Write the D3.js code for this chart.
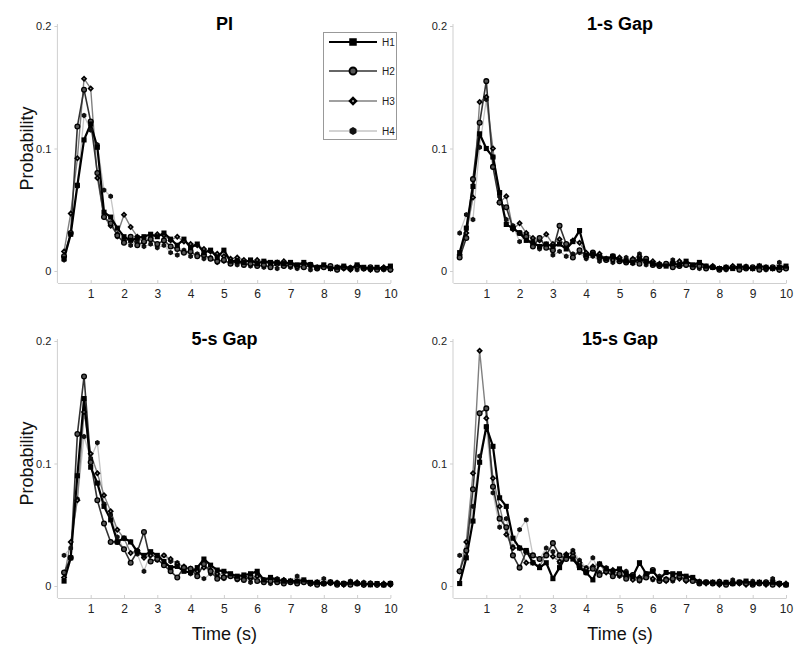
<!DOCTYPE html>
<html><head><meta charset="utf-8">
<script src="https://cdn.jsdelivr.net/npm/d3@7"></script>
<style>body{margin:0;background:#fff}svg{display:block;font-family:Arial,"Liberation Sans",sans-serif}</style>
</head><body><svg id="c" width="800" height="652"></svg>
<script>
const times = [0.2,0.4,0.6,0.8,1.0,1.2,1.4,1.6,1.8,2.0,2.2,2.4,2.6,2.8,3.0,3.2,3.4,3.6,3.8,4.0,4.2,4.4,4.6,4.8,5.0,5.2,5.4,5.6,5.8,6.0,6.2,6.4,6.6,6.8,7.0,7.2,7.4,7.6,7.8,8.0,8.2,8.4,8.6,8.8,9.0,9.2,9.4,9.6,9.8,10.0];
const seriesNames = ["H1","H2","H3","H4"];
const panelTitles = ["PI","1-s Gap","5-s Gap","15-s Gap"];
const xTicks = [1,2,3,4,5,6,7,8,9,10];
const yTicks = [0,0.1,0.2];
const yTickLabels = ["0","0.1","0.2"];

// PI
const piH1 = [0.010,0.030,0.070,0.107,0.120,0.101,0.048,0.044,0.035,0.028,0.025,0.027,0.028,0.030,0.028,0.031,0.026,0.021,0.026,0.019,0.022,0.015,0.017,0.011,0.017,0.008,0.008,0.007,0.009,0.006,0.008,0.007,0.007,0.006,0.007,0.005,0.007,0.005,0.003,0.005,0.002,0.003,0.004,0.002,0.005,0.003,0.002,0.003,0.002,0.004];
const piH2 = [0.012,0.031,0.118,0.148,0.122,0.080,0.044,0.039,0.029,0.023,0.028,0.021,0.024,0.026,0.022,0.025,0.020,0.018,0.015,0.016,0.012,0.013,0.010,0.008,0.009,0.006,0.008,0.005,0.006,0.004,0.005,0.003,0.006,0.004,0.005,0.004,0.003,0.005,0.002,0.003,0.004,0.001,0.003,0.002,0.004,0.002,0.003,0.001,0.002,0.001];
const piH3 = [0.016,0.047,0.092,0.157,0.149,0.076,0.044,0.037,0.030,0.046,0.036,0.028,0.023,0.027,0.030,0.029,0.025,0.028,0.024,0.022,0.021,0.018,0.016,0.014,0.012,0.010,0.011,0.009,0.008,0.009,0.007,0.006,0.007,0.008,0.005,0.004,0.006,0.004,0.003,0.004,0.002,0.003,0.002,0.001,0.003,0.002,0.001,0.002,0.003,0.001];
const piH4 = [0.009,0.030,0.069,0.127,0.115,0.103,0.066,0.061,0.028,0.025,0.021,0.024,0.020,0.022,0.019,0.021,0.015,0.013,0.017,0.012,0.014,0.010,0.011,0.007,0.008,0.006,0.005,0.006,0.004,0.005,0.003,0.004,0.002,0.004,0.003,0.002,0.003,0.001,0.002,0.003,0.002,0.001,0.002,0.003,0.001,0.002,0.001,0.002,0.001,0.003];
// 1-s Gap
const g1H1 = [0.015,0.035,0.069,0.112,0.100,0.093,0.064,0.038,0.035,0.031,0.025,0.023,0.020,0.022,0.020,0.022,0.018,0.024,0.033,0.013,0.014,0.012,0.010,0.012,0.009,0.008,0.007,0.010,0.008,0.006,0.005,0.004,0.006,0.005,0.008,0.005,0.007,0.004,0.003,0.002,0.003,0.002,0.004,0.003,0.002,0.004,0.003,0.002,0.003,0.004];
const g1H2 = [0.011,0.027,0.075,0.121,0.155,0.085,0.056,0.052,0.035,0.031,0.028,0.020,0.027,0.019,0.017,0.037,0.022,0.011,0.017,0.012,0.015,0.011,0.009,0.012,0.008,0.007,0.009,0.006,0.010,0.005,0.004,0.006,0.003,0.004,0.005,0.003,0.004,0.002,0.003,0.001,0.002,0.003,0.001,0.002,0.003,0.001,0.002,0.003,0.001,0.002];
const g1H3 = [0.013,0.031,0.060,0.138,0.142,0.100,0.056,0.061,0.034,0.039,0.031,0.027,0.025,0.030,0.022,0.026,0.020,0.025,0.023,0.015,0.013,0.014,0.010,0.009,0.011,0.008,0.010,0.012,0.007,0.008,0.006,0.005,0.007,0.008,0.005,0.004,0.005,0.003,0.004,0.002,0.003,0.004,0.002,0.003,0.002,0.004,0.003,0.002,0.001,0.003];
const g1H4 = [0.031,0.046,0.042,0.101,0.140,0.093,0.061,0.042,0.037,0.024,0.029,0.026,0.018,0.022,0.013,0.016,0.012,0.014,0.015,0.010,0.012,0.008,0.009,0.007,0.008,0.011,0.006,0.014,0.005,0.007,0.004,0.005,0.009,0.004,0.006,0.003,0.002,0.004,0.003,0.002,0.001,0.003,0.002,0.004,0.002,0.003,0.001,0.002,0.007,0.002];
// 5-s Gap
const g5H1 = [0.004,0.023,0.090,0.153,0.097,0.084,0.065,0.054,0.036,0.039,0.036,0.028,0.025,0.028,0.025,0.020,0.015,0.016,0.012,0.011,0.015,0.022,0.017,0.013,0.012,0.010,0.008,0.009,0.010,0.012,0.005,0.007,0.005,0.004,0.004,0.004,0.005,0.003,0.003,0.002,0.003,0.002,0.002,0.003,0.002,0.002,0.001,0.002,0.001,0.002];
const g5H2 = [0.011,0.023,0.124,0.171,0.101,0.070,0.051,0.036,0.036,0.030,0.019,0.028,0.044,0.020,0.022,0.017,0.012,0.007,0.015,0.014,0.008,0.018,0.012,0.006,0.007,0.008,0.006,0.005,0.008,0.004,0.003,0.004,0.003,0.002,0.003,0.002,0.003,0.002,0.001,0.002,0.003,0.001,0.002,0.001,0.002,0.001,0.002,0.001,0.001,0.002];
const g5H3 = [0.007,0.036,0.070,0.142,0.108,0.092,0.074,0.061,0.046,0.039,0.027,0.029,0.023,0.025,0.024,0.025,0.022,0.018,0.016,0.014,0.012,0.015,0.013,0.010,0.008,0.009,0.007,0.008,0.006,0.008,0.005,0.006,0.004,0.005,0.004,0.003,0.004,0.002,0.003,0.002,0.003,0.002,0.001,0.002,0.003,0.001,0.002,0.001,0.002,0.001];
const g5H4 = [0.025,0.031,0.071,0.122,0.104,0.117,0.067,0.058,0.040,0.030,0.036,0.026,0.012,0.027,0.021,0.025,0.020,0.019,0.014,0.010,0.009,0.006,0.010,0.008,0.006,0.009,0.005,0.007,0.003,0.009,0.004,0.002,0.006,0.005,0.003,0.008,0.004,0.002,0.003,0.006,0.002,0.003,0.001,0.004,0.002,0.003,0.001,0.002,0.001,0.001];
// 15-s Gap
const g15H1 = [0.002,0.023,0.053,0.101,0.130,0.114,0.072,0.065,0.039,0.031,0.029,0.019,0.015,0.019,0.006,0.015,0.025,0.022,0.015,0.011,0.005,0.018,0.014,0.012,0.014,0.010,0.008,0.019,0.010,0.012,0.006,0.011,0.010,0.010,0.008,0.007,0.003,0.003,0.003,0.002,0.003,0.002,0.003,0.004,0.002,0.003,0.002,0.003,0.002,0.001];
const g15H2 = [0.012,0.029,0.079,0.141,0.145,0.081,0.055,0.048,0.025,0.015,0.028,0.025,0.022,0.025,0.035,0.025,0.022,0.024,0.016,0.011,0.014,0.009,0.012,0.008,0.010,0.006,0.009,0.005,0.007,0.013,0.004,0.005,0.006,0.008,0.005,0.004,0.002,0.003,0.002,0.003,0.001,0.002,0.003,0.002,0.001,0.002,0.003,0.001,0.002,0.001];
const g15H3 = [0.012,0.036,0.092,0.192,0.137,0.088,0.065,0.042,0.031,0.031,0.019,0.019,0.016,0.026,0.024,0.020,0.026,0.027,0.019,0.014,0.016,0.018,0.011,0.013,0.009,0.008,0.005,0.007,0.009,0.006,0.005,0.004,0.007,0.006,0.004,0.005,0.003,0.002,0.003,0.001,0.002,0.003,0.002,0.001,0.002,0.003,0.001,0.002,0.001,0.002];
const g15H4 = [0.025,0.029,0.065,0.106,0.130,0.076,0.048,0.055,0.032,0.046,0.054,0.025,0.022,0.031,0.028,0.019,0.025,0.029,0.021,0.015,0.023,0.011,0.015,0.009,0.008,0.012,0.006,0.004,0.010,0.005,0.008,0.006,0.004,0.007,0.005,0.006,0.004,0.003,0.002,0.004,0.003,0.005,0.002,0.003,0.004,0.002,0.003,0.006,0.002,0.001];

const panelData = [[piH1,piH2,piH3,piH4],[g1H1,g1H2,g1H3,g1H4],[g5H1,g5H2,g5H3,g5H4],[g15H1,g15H2,g15H3,g15H4]];

const styles = [
  {stroke:"#000", width:2.2, shape:"square"},
  {stroke:"#333", width:1.6, shape:"circle"},
  {stroke:"#808080", width:1.4, shape:"diamond"},
  {stroke:"#c4c4c4", width:1.3, shape:"hex"}
];

const svg = d3.select("#c");
const panels = [
  {x0:57.4, y0:271, y2:26},
  {x0:453, y0:271, y2:26},
  {x0:57.4, y0:586, y2:341},
  {x0:453, y0:586, y2:341}
];

function drawMarker(g, shape, x, y, s) {
  s = s || 1;
  if (shape === "square") {
    g.append("rect").attr("x", x-3*s).attr("y", y-3*s).attr("width", 6*s).attr("height", 6*s).attr("fill","#000");
  } else if (shape === "circle") {
    g.append("circle").attr("cx",x).attr("cy",y).attr("r",2.8*s).attr("fill","#555").attr("stroke","#000").attr("stroke-width",1.5*s);
  } else if (shape === "diamond") {
    const r = 3.8*s;
    g.append("path").attr("d",`M${x},${y-r}L${x+r},${y}L${x},${y+r}L${x-r},${y}Z`).attr("fill","#000");
    g.append("circle").attr("cx",x).attr("cy",y).attr("r",0.9*s).attr("fill","#999");
  } else {
    const r = 3.2*s;
    const pts = d3.range(6).map(k => { const a = Math.PI/3*k + Math.PI/6; return [x + r*Math.cos(a), y + r*Math.sin(a)]; });
    g.append("path").attr("d","M"+pts.map(p=>p.join(",")).join("L")+"Z").attr("fill","#111");
  }
}

panels.forEach((p, pi) => {
  const x = d3.scaleLinear().domain([0,10]).range([p.x0, p.x0 + 333]);
  const y = d3.scaleLinear().domain([0,0.2]).range([p.y0, p.y2]);
  const g = svg.append("g");
  const axisY = p.y0 + 12;
  const xa = g.append("g").attr("transform",`translate(0,${axisY})`)
    .call(d3.axisBottom(x).tickValues(xTicks).tickFormat(d3.format("d")).tickSizeInner(-3).tickSizeOuter(0).tickPadding(6));
  xa.select(".domain").attr("stroke","#cfcfcf");
  xa.selectAll(".tick line").attr("stroke","#cfcfcf");
  xa.selectAll("text").attr("font-size",12).attr("fill","#222").attr("font-family","Arial, Liberation Sans, sans-serif");
  const ya = g.append("g").attr("transform",`translate(${p.x0},0)`)
    .call(d3.axisLeft(y).tickValues(yTicks).tickFormat((d,i)=>yTickLabels[i]).tickSizeInner(3).tickSizeOuter(0).tickPadding(3));
  ya.select(".domain").attr("d",`M0,${p.y2-2}V${axisY}`).attr("stroke","#cfcfcf");
  ya.selectAll(".tick line").attr("stroke","#cfcfcf");
  ya.selectAll("text").attr("font-size",11).attr("fill","#222").attr("font-family","Arial, Liberation Sans, sans-serif");

  g.append("text").attr("x", p.x0 + 167).attr("y", p.y2 + 4).attr("text-anchor","middle")
    .attr("font-weight","bold").attr("font-size",18).text(panelTitles[pi]);

  const line = d3.line().x((d,i)=>x(times[i])).y(d=>y(d));
  const order = [3,2,1,0];
  order.forEach(si => {
    const vals = panelData[pi][si];
    g.append("path").datum(vals).attr("d", line).attr("fill","none")
      .attr("stroke", styles[si].stroke).attr("stroke-width", styles[si].width).attr("stroke-linejoin","round");
  });
  order.forEach(si => {
    const vals = panelData[pi][si];
    const mg = g.append("g");
    vals.forEach((v,i) => drawMarker(mg, styles[si].shape, x(times[i]), y(v), 0.85));
  });

  if (pi % 2 === 0) {
    svg.append("text").attr("transform",`translate(33,${(p.y0+p.y2)/2}) rotate(-90)`).attr("text-anchor","middle")
      .attr("font-size",18).attr("fill","#111").text("Probability");
  }
  if (pi >= 2) {
    svg.append("text").attr("x", p.x0 + 167).attr("y", 640).attr("text-anchor","middle")
      .attr("font-size",18).attr("fill","#111").text("Time (s)");
  }
});

const lg = svg.append("g");
lg.append("rect").attr("x",323.5).attr("y",32.5).attr("width",73).attr("height",107).attr("fill","#fff").attr("stroke","#999");
const ly = [42,71,101,131];
seriesNames.forEach((n,i) => {
  lg.append("line").attr("x1",329).attr("x2",377).attr("y1",ly[i]).attr("y2",ly[i]).attr("stroke",styles[i].stroke).attr("stroke-width",styles[i].width);
  drawMarker(lg, styles[i].shape, 353, ly[i], 1.25);
  lg.append("text").attr("x",382).attr("y",ly[i]+3.5).attr("font-size",10).attr("fill","#222").text(n);
});
</script></body></html>
